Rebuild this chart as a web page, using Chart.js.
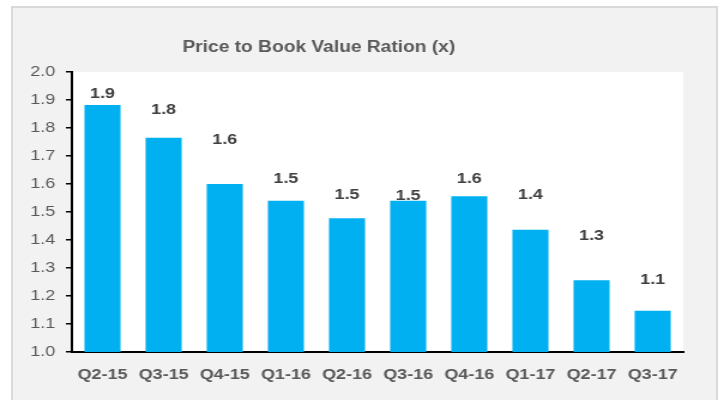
<!DOCTYPE html>
<html>
<head>
<meta charset="utf-8">
<script src="https://cdn.jsdelivr.net/npm/chart.js@4"></script>
<style>
  html, body { margin: 0; padding: 0; background: #ffffff; overflow: hidden; }
  #panel {
    position: absolute; left: 11px; top: 6px; width: 707px; height: 410px;
    box-sizing: border-box; border: 2px solid #d9d9d9; background: #f2f2f2;
  }
  /* Die Vorlage ist horizontal gestreckt (~1.2x) – wir zeichnen schmal und strecken per CSS */
  #wrap {
    position: absolute; left: 0; top: 0; width: 604px; height: 400px;
    transform: scaleX(1.1987); transform-origin: 0 0;
  }
</style>
</head>
<body>
<div id="panel"></div>
<div id="wrap"><canvas id="chart" width="604" height="400"></canvas></div>
<script>
'use strict';

// Quartale und KBV-Werte
const QUARTALE = ['Q2-15', 'Q3-15', 'Q4-15', 'Q1-16', 'Q2-16',
                  'Q3-16', 'Q4-16', 'Q1-17', 'Q2-17', 'Q3-17'];
const KBV      = [1.882, 1.765, 1.600, 1.540, 1.478,
                  1.540, 1.556, 1.437, 1.256, 1.147];
// Höhe (in Achsen-Einheiten), auf der die Datenbeschriftungen stehen
const LABEL_HOEHE = [1.921, 1.864, 1.759, 1.618, 1.561,
                     1.557, 1.618, 1.561, 1.414, 1.259];
const Y_TICKS  = [1.0, 1.1, 1.2, 1.3, 1.4, 1.5, 1.6, 1.7, 1.8, 1.9, 2.0];
const TITEL    = 'Price to Book Value Ration (x)';

const FONT = '"Liberation Sans", Arial, sans-serif';

// Weißer Hintergrund nur im Plotbereich
const plotHintergrund = {
  id: 'plotHintergrund',
  beforeDraw(chart) {
    const { ctx, chartArea: a } = chart;
    ctx.save();
    ctx.fillStyle = '#ffffff';
    ctx.fillRect(a.left, a.top, a.right - a.left, a.bottom - a.top);
    ctx.restore();
  }
};

// Titel (sitzt links von der Mitte, wie im Original)
const titelPlugin = {
  id: 'titelPlugin',
  afterDraw(chart) {
    const ctx = chart.ctx;
    ctx.save();
    ctx.font = 'bold 16px ' + FONT;
    ctx.fillStyle = '#595959';
    ctx.textAlign = 'center';
    ctx.textBaseline = 'middle';
    ctx.fillText(TITEL, 266, 48);
    ctx.restore();
  }
};

// Datenbeschriftungen über den Balken
const werteLabels = {
  id: 'werteLabels',
  afterDatasetsDraw(chart) {
    const ctx  = chart.ctx;
    const meta = chart.getDatasetMeta(0);
    const y    = chart.scales.y;
    ctx.save();
    ctx.font = 'bold 15px ' + FONT;
    ctx.fillStyle = '#404040';
    ctx.textAlign = 'center';
    ctx.textBaseline = 'middle';
    meta.data.forEach((bar, i) => {
      const text = (Math.round(KBV[i] * 10) / 10).toFixed(1);
      ctx.fillText(text, bar.x, y.getPixelForValue(LABEL_HOEHE[i]));
    });
    ctx.restore();
  }
};

new Chart(document.getElementById('chart'), {
  type: 'bar',
  data: {
    labels: QUARTALE,
    datasets: [{
      data: KBV,
      backgroundColor: '#00b0f0',
      borderWidth: 0,
      barPercentage: 0.59,
      categoryPercentage: 1.0,
    }],
  },
  options: {
    responsive: false,
    animation: false,
    devicePixelRatio: 1,
    layout: { padding: { top: 72, right: 34, bottom: 0, left: 0 } },
    plugins: {
      legend:  { display: false },
      tooltip: { enabled: false },
      title:   { display: false },
    },
    scales: {
      x: {
        grid:   { display: false, drawTicks: false },
        border: { display: true, color: '#000000', width: 2 },
        ticks: {
          color: '#595959',
          font: { family: FONT, size: 15, weight: 'bold' },
          padding: 14,
          maxRotation: 0,
          autoSkip: false,
        },
        afterFit(scale) { scale.height = 48; },
      },
      y: {
        min: 1.0,
        max: 2.0,
        grid: {
          drawOnChartArea: false,
          drawTicks: true,
          tickLength: 5,
          tickColor: '#000000',
          lineWidth: 1.5,
        },
        border: { display: true, color: '#000000', width: 2 },
        afterBuildTicks(scale) {
          scale.ticks = Y_TICKS.map(v => ({ value: v }));
        },
        ticks: {
          color: '#595959',
          font: { family: FONT, size: 15 },
          padding: 9,
          callback(val) { return Number(val).toFixed(1); },
        },
        afterFit(scale) { scale.width = 60; },
      },
    },
  },
  plugins: [plotHintergrund, titelPlugin, werteLabels],
});
</script>
</body>
</html>
